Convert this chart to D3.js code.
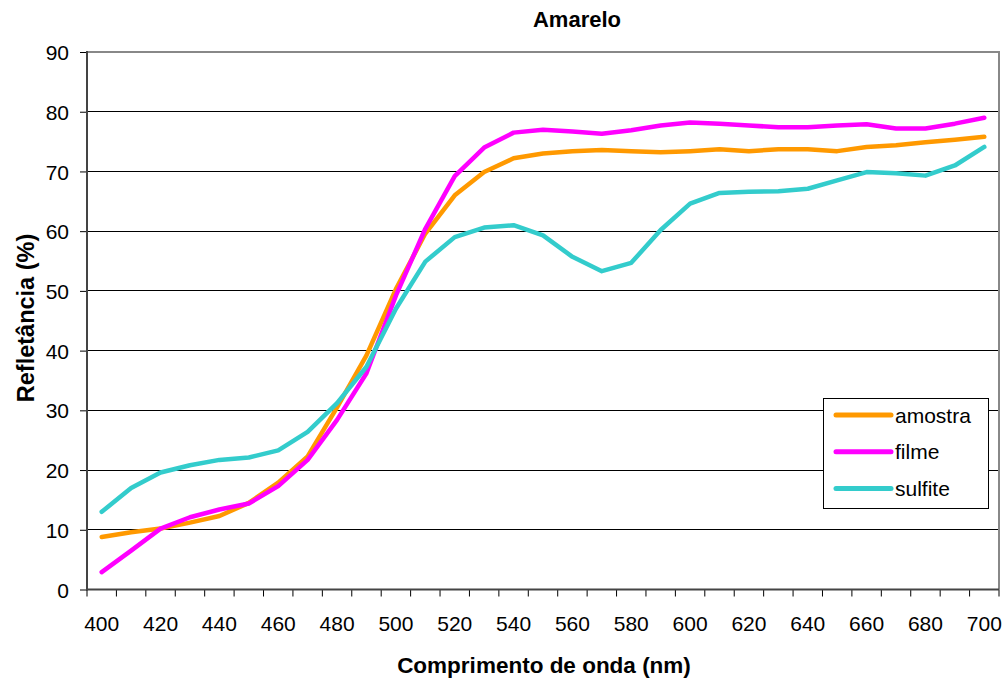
<!DOCTYPE html>
<html>
<head>
<meta charset="utf-8">
<script src="https://cdn.jsdelivr.net/npm/d3@7"></script>
<style>
  html, body { margin: 0; padding: 0; background: #fff; }
  text { font-family: "Liberation Sans", Arial, sans-serif; }
</style>
</head>
<body>
<svg id="chart" width="1007" height="682"></svg>
<script>
const wavelengths = [400,410,420,430,440,450,460,470,480,490,500,510,520,530,540,550,560,570,580,590,600,610,620,630,640,650,660,670,680,690,700];
const amostra = [8.8,9.6,10.2,11.2,12.3,14.5,17.9,22.3,30.5,39.2,50.3,59.6,66.0,69.9,72.2,73.0,73.4,73.6,73.4,73.2,73.4,73.7,73.4,73.7,73.7,73.4,74.1,74.4,74.9,75.3,75.8];
const filme = [2.9,6.5,10.2,12.1,13.4,14.4,17.3,21.7,28.4,36.2,49.2,60.4,69.2,74.0,76.5,77.0,76.7,76.3,76.9,77.7,78.2,78.0,77.7,77.4,77.4,77.7,77.9,77.2,77.2,78.0,79.0];
const sulfite = [13.0,17.0,19.6,20.8,21.7,22.1,23.3,26.4,31.2,37.3,47.0,54.9,59.0,60.6,61.0,59.3,55.7,53.3,54.7,60.2,64.6,66.4,66.6,66.7,67.1,68.5,69.9,69.7,69.3,71.0,74.1];
const seriesNames = ["amostra", "filme", "sulfite"];
const seriesColors = ["#FF9900", "#FF00FF", "#33CCCC"];
const yTicks = [0,10,20,30,40,50,60,70,80,90];
const xLabels = [400,420,440,460,480,500,520,540,560,580,600,620,640,660,680,700];
const titleText = "Amarelo";
const xTitle = "Comprimento de onda (nm)";
const yTitle = "Refletância (%)";

const series = [amostra, filme, sulfite];

const svg = d3.select("#chart");
const L = 87, R = 999, T = 52, B = 589.5;

const x = d3.scaleBand().domain(wavelengths).range([L, R]).padding(0);
const y = d3.scaleLinear().domain([0, 90]).range([B, T]);
const cx = d => x(d) + x.bandwidth() / 2;

// gridlines
svg.append("g").selectAll("line").data(yTicks.filter(v => v > 0 && v < 90)).join("line")
  .attr("x1", L).attr("x2", R).attr("y1", d => y(d)).attr("y2", d => y(d))
  .attr("stroke", "#000").attr("stroke-width", 1).attr("shape-rendering", "crispEdges");

// plot border top/right (gray)
svg.append("line").attr("x1", L).attr("x2", R + 1).attr("y1", T).attr("y2", T)
  .attr("stroke", "#888").attr("stroke-width", 2);
svg.append("line").attr("x1", R).attr("x2", R).attr("y1", T).attr("y2", B)
  .attr("stroke", "#888").attr("stroke-width", 2);

// y axis
const yAxis = d3.axisLeft(y).tickValues(yTicks).tickSize(7).tickPadding(10);
const gy = svg.append("g").attr("transform", `translate(${L},0)`).call(yAxis);
gy.select(".domain").remove();
gy.selectAll(".tick line").attr("stroke", "#000");
gy.selectAll(".tick text").attr("font-size", 21).attr("fill", "#000").attr("dy", "0.36em").attr("x", -18);
svg.append("line").attr("x1", L).attr("x2", L).attr("y1", T - 1).attr("y2", B + 1)
  .attr("stroke", "#444").attr("stroke-width", 2);

// x axis
const gx = svg.append("g").attr("transform", `translate(0,${B})`);
const bounds = wavelengths.map(d => x(d)).concat([R]);
gx.selectAll("line.tk").data(bounds).join("line").attr("class", "tk")
  .attr("x1", d => d).attr("x2", d => d).attr("y1", 0).attr("y2", 7)
  .attr("stroke", "#000").attr("stroke-width", 1);
const xAxis = d3.axisBottom(x).tickValues(xLabels).tickSize(0).tickPadding(27);
const gxl = svg.append("g").attr("transform", `translate(0,${B})`).call(xAxis);
gxl.select(".domain").remove();
gxl.selectAll(".tick text").attr("font-size", 21).attr("fill", "#000");
svg.append("line").attr("x1", L - 1).attr("x2", R).attr("y1", B).attr("y2", B)
  .attr("stroke", "#444").attr("stroke-width", 2);

// lines
const line = d3.line().x((d, i) => cx(wavelengths[i])).y(d => y(d));
svg.append("g").selectAll("path").data(series).join("path")
  .attr("d", d => line(d)).attr("fill", "none")
  .attr("stroke", (d, i) => seriesColors[i]).attr("stroke-width", 4.5)
  .attr("stroke-linejoin", "round").attr("stroke-linecap", "round");

// legend
const lg = svg.append("g");
lg.append("rect").attr("x", 823.5).attr("y", 398.5).attr("width", 165).attr("height", 110)
  .attr("fill", "#fff").attr("stroke", "#000").attr("stroke-width", 1);
const rows = lg.selectAll("g.row").data(seriesNames).join("g").attr("class", "row")
  .attr("transform", (d, i) => `translate(0,${415 + i * 36.7})`);
rows.append("line").attr("x1", 836).attr("x2", 891).attr("y1", 0).attr("y2", 0)
  .attr("stroke", (d, i) => seriesColors[i]).attr("stroke-width", 5).attr("stroke-linecap", "round");
rows.append("text").attr("x", 895).attr("y", 0).attr("dy", "0.36em")
  .attr("font-size", 21).attr("fill", "#000").text(d => d);

// titles
svg.append("text").attr("x", 577).attr("y", 27).attr("text-anchor", "middle")
  .attr("font-size", 22).attr("font-weight", "bold").text(titleText);
svg.append("text").attr("x", 544).attr("y", 673).attr("text-anchor", "middle")
  .attr("font-size", 22.5).attr("font-weight", "bold").text(xTitle);
svg.append("text").attr("transform", "translate(34,318) rotate(-90)").attr("text-anchor", "middle")
  .attr("font-size", 23.5).attr("font-weight", "bold").text(yTitle);
</script>
</body>
</html>
